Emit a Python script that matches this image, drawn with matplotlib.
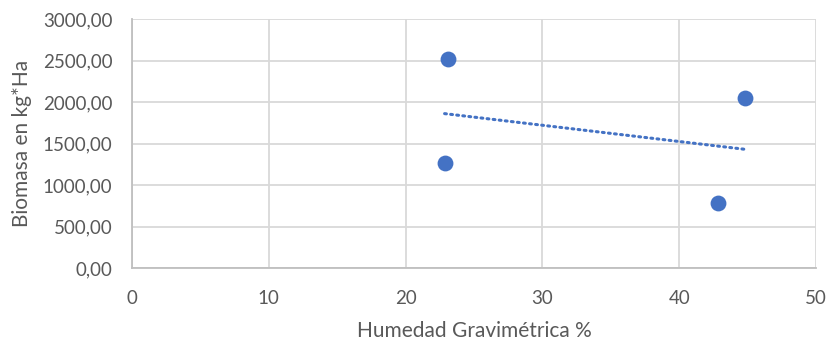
import matplotlib
matplotlib.use("Agg")
import matplotlib.pyplot as plt
import numpy as np
from matplotlib.ticker import FuncFormatter

humedad = [22.85, 23.07, 42.85, 44.8]
biomasa = [1265, 2518, 783, 2048]
x_ticks = [0, 10, 20, 30, 40, 50]
y_ticks = [0, 500, 1000, 1500, 2000, 2500, 3000]

plt.rcParams['font.family'] = ['Lato', 'DejaVu Sans']
blue = '#4472C4'
grid = '#d9d9d9'
txt = '#595959'

fig = plt.figure(figsize=(8.3, 3.44), dpi=100)
ax = fig.add_axes([132/830, 1-268/344, (816-132)/830, (268-19)/344])

ax.scatter(humedad, biomasa, s=130, color=blue, zorder=3, linewidths=0)
coef = np.polyfit(humedad, biomasa, 1)
xs = np.array([min(humedad), max(humedad)])
ax.plot(xs, np.polyval(coef, xs), color=blue, lw=2.2, linestyle=(0, (0.6, 1.4)),
        dash_capstyle='round', zorder=2)

ax.set_xlim(0, 50)
ax.set_ylim(0, 3000)
ax.set_xticks(x_ticks)
ax.set_yticks(y_ticks)
ax.yaxis.set_major_formatter(FuncFormatter(lambda v, p: f"{v:.2f}".replace('.', ',')))
ax.grid(True, color=grid, lw=1.3, zorder=0)
ax.set_axisbelow(True)
for s in ['top', 'right']:
    ax.spines[s].set_visible(False)
for s in ['left', 'bottom']:
    ax.spines[s].set_color('#bfbfbf')
    ax.spines[s].set_linewidth(1.3)
ax.tick_params(length=0, labelsize=13.5, colors=txt)
ax.tick_params(axis='y', pad=14)
ax.tick_params(axis='x', pad=16)
ax.set_xlabel('Humedad Gravimétrica %', fontsize=15, color=txt, labelpad=10)
ax.set_ylabel('Biomasa en kg*Ha', fontsize=15, color=txt, labelpad=8)

fig.savefig('out.png', dpi=100)
